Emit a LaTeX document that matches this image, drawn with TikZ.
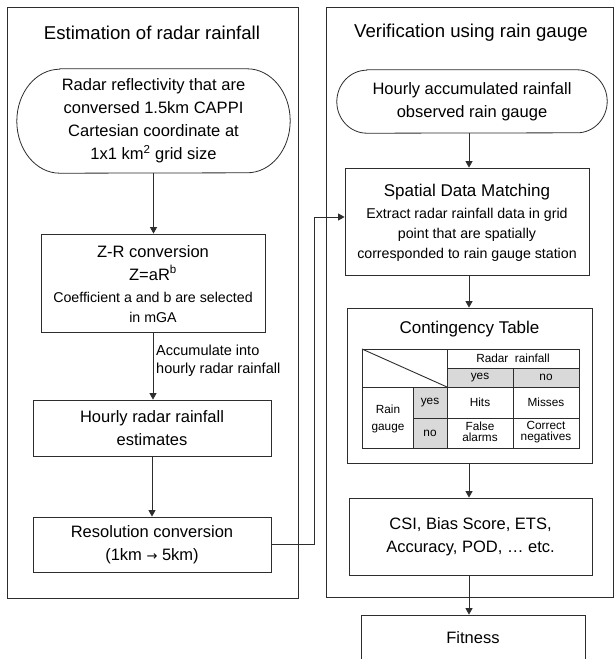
\documentclass[tikz,border=0pt]{standalone}
\usepackage{fontspec}
\setmainfont{Liberation Sans}
\newfontfamily\djv{DejaVu Sans}
\usetikzlibrary{arrows.meta,calc}
\definecolor{tgray}{RGB}{217,217,217}
\definecolor{lcol}{RGB}{45,45,45}
\begin{document}
\begin{tikzpicture}[x={(1pt,0)},y={(0,-1pt)},
  line/.style={draw=lcol, line width=0.8pt},
  mainfont/.style={font=\fontsize{16.5}{23}\selectfont},
  smallfont/.style={font=\fontsize{14.2}{20}\selectfont},
  titlefont/.style={font=\fontsize{18.6}{22}\selectfont},
  tabfont/.style={font=\fontsize{11.8}{11.5}\selectfont},
  box/.style={line, rectangle, align=center, inner sep=0pt, mainfont},
  plain/.style={rectangle, align=center, inner sep=0pt},
  arr/.style={line, -{Triangle[width=7pt,length=6.5pt]}},
  tline/.style={draw=lcol, line width=0.9pt}
]
\useasboundingbox (0,0) rectangle (614,659);
\clip (0,0) rectangle (614,659);
\fill[white] (0,0) rectangle (614,659);

% panels
\draw[line] (7,7) rectangle (298,598);
\draw[line] (326,7) rectangle (613,597);
\node[plain, titlefont] (t1) at (152,33) {Estimation of radar rainfall};
\node[plain, titlefont] (t2) at (471,33) {Verification using rain gauge};

% left column
\node[plain, mainfont, minimum width=273pt, minimum height=104pt] (st1) at (153.5,121)
  {Radar reflectivity that are\\conversed 1.5km CAPPI\\Cartesian coordinate at\\1x1 km\textsuperscript{2} grid size};
\draw[line] ([xshift=43pt]st1.north west) -- ([xshift=-43pt]st1.north east)
  arc[start angle=90, end angle=-90, x radius=43pt, y radius=52pt]
  -- ([xshift=43pt]st1.south west)
  arc[start angle=270, end angle=90, x radius=43pt, y radius=52pt] -- cycle;

\node[box, minimum width=224pt, minimum height=98pt] (zr) at (153,283) {};
\node[plain, mainfont] (zr1) at (153,252) {Z-R conversion};
\node[plain, mainfont] (zr2) at (153,273) {Z=aR\textsuperscript{b}};
\node[plain, smallfont] (zr3) at (153,297) {Coefficient a and b are selected};
\node[plain, smallfont] (zr4) at (153,317) {in mGA};

\node[box, minimum width=238pt, minimum height=56pt] (hr) at (152,428) {Hourly radar rainfall\\estimates};
\node[box, minimum width=238pt, minimum height=55pt] (res) at (152,544.5) {Resolution conversion\\(1km {\djv\fontsize{13}{13}\selectfont →} 5km)};

\draw[arr] (st1.south) -- (st1.south |- zr.north);
\draw[arr] (zr.south) -- (zr.south |- hr.north);
\node[plain, anchor=west, align=left, font=\fontsize{14.5}{18}\selectfont] (acc) at (156,361)
  {Accumulate into\\hourly radar rainfall};
\draw[arr] (hr.south) -- (hr.south |- res.north);

% right column
\coordinate (rcol) at (469,0);
\node[plain, mainfont, minimum width=270pt, minimum height=63pt] (st2) at (472,101.5)
  {Hourly accumulated rainfall\\observed rain gauge};
\draw[line] ([xshift=30pt]st2.north west) -- ([xshift=-30pt]st2.north east)
  arc[start angle=90, end angle=-90, x radius=30pt, y radius=31.5pt]
  -- ([xshift=30pt]st2.south west)
  arc[start angle=270, end angle=90, x radius=30pt, y radius=31.5pt] -- cycle;

\node[box, minimum width=244pt, minimum height=107pt] (sp) at (467,221.5) {};
\node[plain, font=\fontsize{17}{20}\selectfont] (sp1) at (467,192) {Spatial Data Matching};
\node[plain, smallfont] (sp2) at (467,215) {Extract radar rainfall data in grid};
\node[plain, smallfont] (sp3) at (467,235) {point that are spatially};
\node[plain, smallfont] (sp4) at (467,255) {corresponded to rain gauge station};

\node[box, minimum width=245pt, minimum height=155pt] (ct) at (469.5,385.5) {};
\node[plain, font=\fontsize{17}{20}\selectfont] (ct1) at (469.5,329) {Contingency Table};

% table
\fill[tgray] (447,368) rectangle (579,387);
\fill[tgray] (413,387) rectangle (447,448);
\draw[tline] (362,349) rectangle (579,448);
\draw[tline] (447,349) -- (447,448);
\draw[tline] (413,387) -- (413,448);
\draw[tline] (513,368) -- (513,448);
\draw[tline] (447,368) -- (579,368);
\draw[tline] (362,387) -- (579,387);
\draw[tline] (413,418) -- (579,418);
\draw[tline] (362,349) -- (447,387);
\node[plain, tabfont] (rr) at (513,358) {Radar\ \ rainfall};
\node[plain, tabfont] (cy) at (480,377.5) {yes};
\node[plain, tabfont] (cn) at (546,377.5) {no};
\node[plain, font=\fontsize{11.8}{17}\selectfont] (rg) at (388,418.5) {Rain\\gauge};
\node[plain, tabfont] (ry) at (430,402.5) {yes};
\node[plain, tabfont] (rn) at (430,433) {no};
\node[plain, tabfont] (hits) at (480,402.5) {Hits};
\node[plain, tabfont] (miss) at (546,402.5) {Misses};
\node[plain, tabfont] (fa) at (480,432) {False\\alarms};
\node[plain, tabfont] (cneg) at (546,432) {Correct\\negatives};

\node[box, minimum width=243pt, minimum height=77pt] (csi) at (470.5,536.5)
  {CSI, Bias Score, ETS,\\Accuracy, POD, … etc.};
\node[box, minimum width=224pt, minimum height=46pt] (fit) at (473,638) {Fitness};

\draw[arr] (st2.south -| rcol) -- (sp.north -| rcol);
\draw[arr] (sp.south -| rcol) -- (ct.north -| rcol);
\draw[arr] (ct.south -| rcol) -- (csi.north -| rcol);
\draw[arr] (csi.south -| rcol) -- (fit.north -| rcol);

% connector
\coordinate (bend) at (314,544.5);
\draw[arr] (res.east) -- (bend) |- ([yshift=4.5pt]sp.west);
\end{tikzpicture}
\end{document}
